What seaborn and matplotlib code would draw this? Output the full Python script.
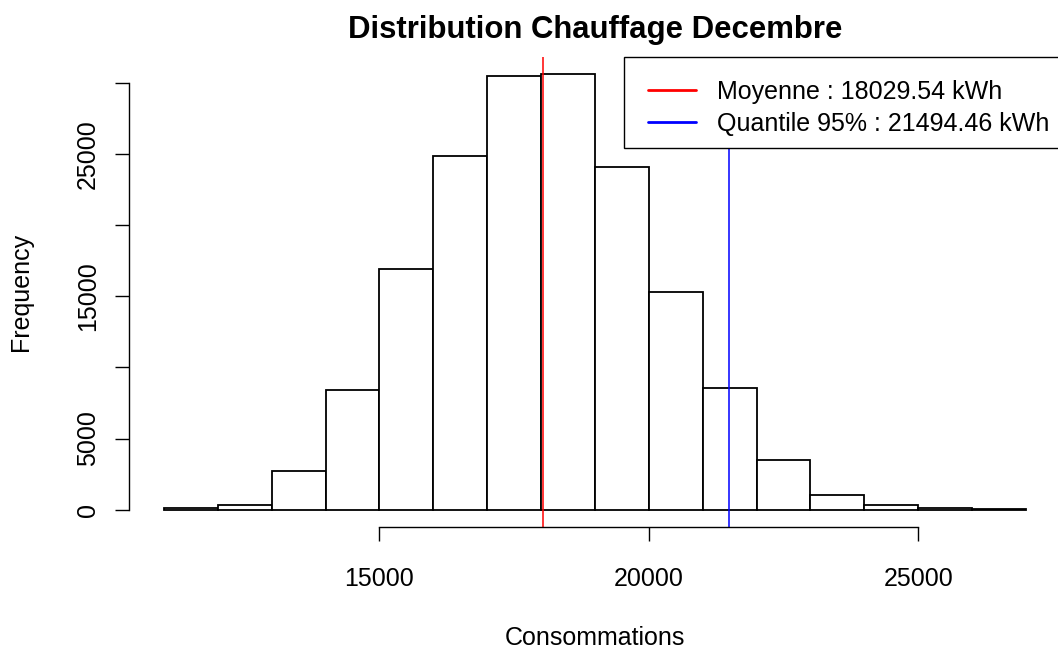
import matplotlib
matplotlib.use('Agg')
import matplotlib.pyplot as plt
from matplotlib.patches import Rectangle
import seaborn as sns
import numpy as np

# histogram (bins of 1000 kWh)
bin_edges = [11000, 12000, 13000, 14000, 15000, 16000, 17000, 18000, 19000,
             20000, 21000, 22000, 23000, 24000, 25000, 26000, 27000]
counts = [120, 330, 2700, 8390, 16900, 24880, 30470, 30610, 24070,
          15290, 8550, 3510, 1000, 320, 130, 30]
mean_value = 18029.54
q95_value = 21494.46

x_ticks = [15000, 20000, 25000]
y_ticks = [0, 5000, 10000, 15000, 20000, 25000, 30000]
y_ticklabels = ['0', '5000', '', '15000', '', '25000', '']

sns.set_style('white')
plt.rcParams['font.family'] = ['Liberation Sans', 'DejaVu Sans']
plt.rcParams['text.color'] = 'black'
plt.rcParams['axes.labelcolor'] = 'black'

W, H = 1058, 650
fig = plt.figure(figsize=(W / 100, H / 100), dpi=100)
# plot region in pixels (R style, 4% padding around the data range)
left_px, right_px, top_px, bottom_px = 129.4, 1060.5, 57, 527
ax = fig.add_axes([left_px / W, 1 - bottom_px / H,
                   (right_px - left_px) / W, (bottom_px - top_px) / H])

centers = [(a + b) / 2 for a, b in zip(bin_edges[:-1], bin_edges[1:])]
sns.histplot(x=centers, weights=counts, bins=bin_edges, color='white',
             edgecolor='black', linewidth=1.3, alpha=1, ax=ax)

ax.axvline(mean_value, color='red', lw=1.1, label=f'Moyenne : {mean_value} kWh')
ax.axvline(q95_value, color='blue', lw=1.1, label=f'Quantile 95% : {q95_value} kWh')

xr = bin_edges[-1] - bin_edges[0]
ax.set_xlim(bin_edges[0] - 0.04 * xr, bin_edges[-1] + 0.04 * xr)
ymax = max(counts)
ax.set_ylim(-0.04 * ymax, 1.04 * ymax)

for s in ['top', 'right']:
    ax.spines[s].set_visible(False)
ax.spines['left'].set_bounds(y_ticks[0], y_ticks[-1])
ax.spines['bottom'].set_bounds(x_ticks[0], x_ticks[-1])
for s in ['left', 'bottom']:
    ax.spines[s].set_color('black')
    ax.spines[s].set_linewidth(1.0)

ax.set_xticks(x_ticks)
ax.set_xticklabels([str(t) for t in x_ticks])
ax.set_yticks(y_ticks)
ax.set_yticklabels(y_ticklabels, rotation=90, va='center')
ax.tick_params(axis='both', direction='out', length=10, width=1.0,
               color='black', labelsize=18, labelcolor='black')
ax.tick_params(axis='x', pad=19, bottom=True)
ax.tick_params(axis='y', pad=11, left=True)

ax.set_xlabel('Consommations', fontsize=18, labelpad=25)
ax.set_ylabel('Frequency', fontsize=18, labelpad=31)
ax.set_title('Distribution Chauffage Decembre', fontsize=22.4,
             fontweight='bold', pad=14)

# legend box (runs off the right edge like the original)
box = Rectangle((624 / W, 1 - 148 / H), (1064 - 624) / W, 91 / H,
                transform=fig.transFigure, facecolor='white',
                edgecolor='black', linewidth=1.0, clip_on=False, zorder=4)
ax.add_patch(box)
leg = ax.legend(loc='upper left', bbox_to_anchor=(648 / W, 1 - 80 / H),
                bbox_transform=fig.transFigure, fontsize=18, frameon=False,
                borderaxespad=0, borderpad=0, handlelength=1.9,
                handletextpad=0.85, labelspacing=0.3)
leg.set_zorder(5)
for line in leg.get_lines():
    line.set_linewidth(2.0)

fig.savefig('out.png', dpi=100)
